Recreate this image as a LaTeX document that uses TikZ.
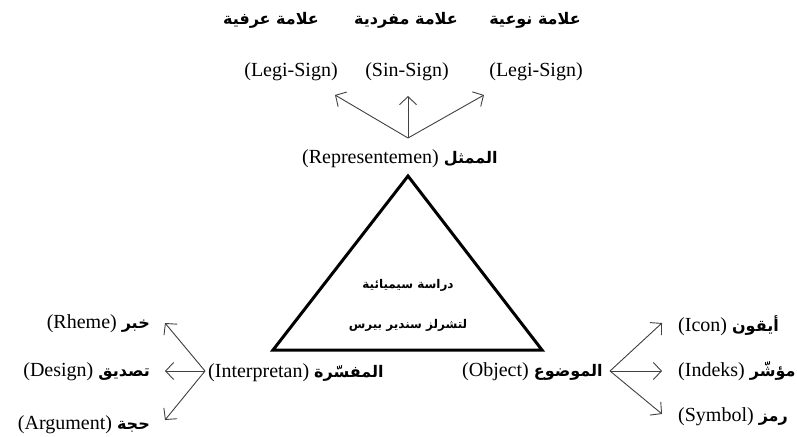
\documentclass[tikz,border=0pt]{standalone}
\usepackage{fontspec}
\setmainfont{Liberation Serif}
\newfontfamily\arabicfont[Script=Arabic]{DejaVu Sans}
\TeXXeTstate=1
\usetikzlibrary{arrows.meta}
\newcommand\LatT{\fontsize{20}{24}\selectfont}
\newcommand\ArT{\arabicfont\bfseries\fontsize{16}{18}\selectfont}
\newcommand\ArTop{\arabicfont\bfseries\fontsize{16}{18}\selectfont}
\newcommand\ArIn{\arabicfont\bfseries\fontsize{12}{14}\selectfont}
\begin{document}
\begin{tikzpicture}[x=1pt,y=-1pt,
  lbl/.style={inner sep=0pt, font=\LatT},
  conn/.style={draw=black!75, line width=0.9pt, -{Straight Barb[length=8pt,width=17pt]}},
  tri/.style={draw=black, line width=3pt, line join=miter}]
\useasboundingbox (0,0) rectangle (797,436);
% top labels
\node[lbl] (a1) at (271,20) {\ArTop\beginR علامة عرفية\endR};
\node[lbl] (a2) at (406,20) {\ArTop\beginR علامة مفردية\endR};
\node[lbl] (a3) at (535,20) {\ArTop\beginR علامة نوعية\endR};
\node[lbl,anchor=base] (l1) at (291,76) {(Legi-Sign)};
\node[lbl,anchor=base] (l2) at (407,76) {(Sin-Sign)};
\node[lbl,anchor=base] (l3) at (536,76) {(Legi-Sign)};
% representamen
\node[lbl,anchor=base west] (rep) at (302,163) {(Representemen) {\ArT\beginR الممثل\endR}};
\coordinate (rp) at (408,138);
\coordinate (t1) at (335,95);
\coordinate (t2) at (408,96);
\coordinate (t3) at (484,95);
\draw[conn] (rp) -- (t1);
\draw[conn] (rp) -- (t2);
\draw[conn] (rp) -- (t3);
% triangle
\coordinate (apex) at (408,176);
\coordinate (bl) at (273,350);
\coordinate (br) at (542,350);
\draw[tri] (apex) -- (bl) -- (br) -- cycle;
\node[lbl] (title) at (408,285) {\ArIn\beginR دراسة سيميائية\endR};
\node[lbl] (author) at (408,325) {\ArIn\beginR لتشرلز سندير بيرس\endR};
% interpretant
\node[lbl,anchor=base west] (intp) at (208,377) {(Interpretan) {\ArT\beginR المفسّرة\endR}};
\coordinate (ip) at (205,371);
\coordinate (i1) at (165,323);
\coordinate (i2) at (165,371);
\coordinate (i3) at (165,420);
\draw[conn] (ip) -- (i1);
\draw[conn] (ip) -- (i2);
\draw[conn] (ip) -- (i3);
\node[lbl,anchor=base east] (rheme) at (150,328) {(Rheme) {\ArT\beginR خبر\endR}};
\node[lbl,anchor=base east] (design) at (150,376) {(Design) {\ArT\beginR تصديق\endR}};
\node[lbl,anchor=base east] (arg) at (150,429) {(Argument) {\ArT\beginR حجة\endR}};
% object
\node[lbl,anchor=base west] (obj) at (462,376) {(Object) {\ArT\beginR الموضوع\endR}};
\coordinate (op) at (610,371);
\coordinate (o1) at (662,323);
\coordinate (o2) at (662,371);
\coordinate (o3) at (662,414);
\draw[conn] (op) -- (o1);
\draw[conn] (op) -- (o2);
\draw[conn] (op) -- (o3);
\node[lbl,anchor=base west] (icon) at (678,331) {(Icon) {\ArT\beginR أيقون\endR}};
\node[lbl,anchor=base west] (indeks) at (678,376) {(Indeks) {\ArT\beginR مؤشّر\endR}};
\node[lbl,anchor=base west] (symbol) at (678,421) {(Symbol) {\ArT\beginR رمز\endR}};
\end{tikzpicture}
\end{document}
